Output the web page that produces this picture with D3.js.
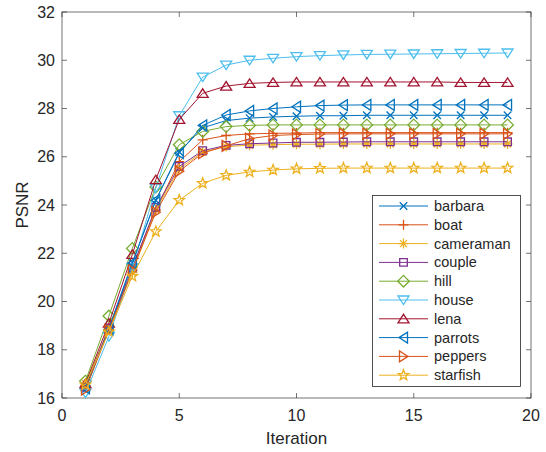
<!DOCTYPE html>
<html>
<head>
<meta charset="utf-8">
<script src="https://cdn.jsdelivr.net/npm/d3@7"></script>
<style>
  body { margin: 0; background: #fff; }
  text { font-family: 'Liberation Sans', Arial, Helvetica, sans-serif; fill: #262626; }
</style>
</head>
<body>
<div id="main-content"></div>
<script>
'use strict'

const iterations = d3.range(1, 20)
const names = ['barbara', 'boat', 'cameraman', 'couple', 'hill', 'house', 'lena', 'parrots', 'peppers', 'starfish']

const barbara = [16.35, 18.9, 21.6, 24.2, 26.2, 27.2, 27.5, 27.6, 27.65, 27.68, 27.7, 27.7, 27.72, 27.72, 27.72, 27.72, 27.72, 27.72, 27.72]
const boat = [16.5, 18.9, 21.4, 23.8, 25.8, 26.7, 26.88, 26.95, 26.97, 26.98, 27.0, 27.0, 27.0, 27.0, 27.0, 27.0, 27.0, 27.0, 27.0]
const cameraman = [16.6, 18.85, 21.2, 23.8, 25.5, 26.2, 26.42, 26.48, 26.5, 26.52, 26.52, 26.53, 26.53, 26.53, 26.53, 26.53, 26.53, 26.53, 26.53]
const couple = [16.45, 18.9, 21.4, 23.9, 25.6, 26.25, 26.47, 26.54, 26.57, 26.6, 26.6, 26.61, 26.62, 26.62, 26.62, 26.62, 26.62, 26.62, 26.62]
const hill = [16.7, 19.4, 22.2, 24.75, 26.5, 27.05, 27.25, 27.3, 27.32, 27.32, 27.32, 27.32, 27.32, 27.32, 27.32, 27.32, 27.32, 27.32, 27.32]
const house = [16.2, 18.55, 21.4, 24.7, 27.7, 29.3, 29.8, 30.0, 30.08, 30.15, 30.19, 30.22, 30.24, 30.25, 30.26, 30.27, 30.28, 30.29, 30.3]
const lena = [16.6, 19.1, 21.95, 25.05, 27.55, 28.63, 28.93, 29.04, 29.08, 29.1, 29.1, 29.1, 29.1, 29.1, 29.1, 29.1, 29.08, 29.08, 29.08]
const parrots = [16.4, 18.85, 21.6, 24.2, 26.15, 27.3, 27.73, 27.9, 28.0, 28.07, 28.12, 28.14, 28.15, 28.15, 28.15, 28.15, 28.15, 28.15, 28.15]
const peppers = [16.35, 18.8, 21.3, 23.7, 25.4, 26.15, 26.45, 26.75, 26.88, 26.92, 26.94, 26.95, 26.95, 26.95, 26.95, 26.95, 26.95, 26.95, 26.95]
const starfish = [16.55, 18.75, 21.05, 22.9, 24.2, 24.9, 25.23, 25.37, 25.45, 25.5, 25.52, 25.53, 25.53, 25.53, 25.53, 25.53, 25.53, 25.53, 25.53]

const values = [barbara, boat, cameraman, couple, hill, house, lena, parrots, peppers, starfish]
const colors = ['#0072BD', '#D95319', '#EDB120', '#7E2F8E', '#77AC30', '#4DBEEE', '#A2142F', '#0072BD', '#D95319', '#EDB120']
const markers = ['x', '+', '*', 's', 'd', 'v', '^', '<', '>', 'p']

const xTicks = [0, 5, 10, 15, 20]
const yTicks = [16, 18, 20, 22, 24, 26, 28, 30, 32]

const width = 546,
		height = 452
const margin = { top: 12, right: 15, bottom: 54, left: 62 }

const svg = d3.select('#main-content').append('svg')
	.attr('width', width)
	.attr('height', height)

const x = d3.scaleLinear().domain([0, 20]).range([margin.left, width - margin.right])
const y = d3.scaleLinear().domain([16, 32]).range([height - margin.bottom, margin.top])

// marker path around 0,0
const markerPath = (m) => {
	const r = 5
	switch (m) {
		case 'x': return `M${-r*0.75},${-r*0.75}L${r*0.75},${r*0.75}M${-r*0.75},${r*0.75}L${r*0.75},${-r*0.75}`
		case '+': return `M${-r},0L${r},0M0,${-r}L0,${r}`
		case '*': return `M${-r},0L${r},0M0,${-r}L0,${r}M${-r*0.7},${-r*0.7}L${r*0.7},${r*0.7}M${-r*0.7},${r*0.7}L${r*0.7},${-r*0.7}`
		case 's': return `M-3.8,-3.8H3.8V3.8H-3.8Z`
		case 'd': return `M0,-5.8L5.8,0L0,5.8L-5.8,0Z`
		case 'v': return `M-5.5,-4L5.5,-4L0,4.5Z`
		case '^': return `M-5.5,4L5.5,4L0,-4.5Z`
		case '<': return `M4,-5.5L4,5.5L-4.5,0Z`
		case '>': return `M-4,-5.5L-4,5.5L4.5,0Z`
		case 'p': {
			const pts = []
			for (let i = 0; i < 10; i++) {
				const a = -Math.PI / 2 + i * Math.PI / 5
				const rr = i % 2 === 0 ? 5.5 : 2.3
				pts.push([rr * Math.cos(a), rr * Math.sin(a)])
			}
			return 'M' + pts.map(p => p[0].toFixed(2) + ',' + p[1].toFixed(2)).join('L') + 'Z'
		}
	}
}

// axes box
const axisColor = '#262626'
svg.append('rect')
	.attr('x', x(0)).attr('y', y(32))
	.attr('width', x(20) - x(0)).attr('height', y(16) - y(32))
	.attr('fill', 'none').attr('stroke', axisColor).attr('stroke-width', 0.8).attr('stroke-opacity', 0.8)

// ticks inside, bottom/top/left/right
const tickLen = 5
const ticks = svg.append('g').attr('stroke', axisColor).attr('stroke-width', 0.8).attr('stroke-opacity', 0.8)
xTicks.forEach(t => {
	ticks.append('line').attr('x1', x(t)).attr('x2', x(t)).attr('y1', y(16)).attr('y2', y(16) - tickLen)
	ticks.append('line').attr('x1', x(t)).attr('x2', x(t)).attr('y1', y(32)).attr('y2', y(32) + tickLen)
})
yTicks.forEach(t => {
	ticks.append('line').attr('x1', x(0)).attr('x2', x(0) + tickLen).attr('y1', y(t)).attr('y2', y(t))
	ticks.append('line').attr('x1', x(20)).attr('x2', x(20) - tickLen).attr('y1', y(t)).attr('y2', y(t))
})

svg.append('g').selectAll('text')
	.data(xTicks)
	.enter().append('text')
		.attr('x', d => x(d))
		.attr('y', y(16) + 23)
		.attr('text-anchor', 'middle')
		.attr('font-size', 16)
		.text(d => d)

svg.append('g').selectAll('text')
	.data(yTicks)
	.enter().append('text')
		.attr('x', x(0) - 7)
		.attr('y', d => y(d))
		.attr('dy', '.35em')
		.attr('text-anchor', 'end')
		.attr('font-size', 16)
		.text(d => d)

svg.append('text')
	.attr('x', (x(0) + x(20)) / 2)
	.attr('y', 444)
	.attr('text-anchor', 'middle')
	.attr('font-size', 17)
	.text('Iteration')

svg.append('text')
	.attr('transform', `translate(28,${(y(16) + y(32)) / 2}) rotate(-90)`)
	.attr('text-anchor', 'middle')
	.attr('font-size', 17)
	.text('PSNR')

// series
const line = d3.line()
	.x((d, i) => x(iterations[i]))
	.y(d => y(d))

const series = svg.append('g')
	.selectAll('g')
	.data(values)
	.enter().append('g')

series.append('path')
	.attr('d', d => line(d))
	.attr('fill', 'none')
	.attr('stroke', (d, i) => colors[i])
	.attr('stroke-width', 1)

series.each(function(d, i) {
	d3.select(this).selectAll('path.mk')
		.data(d)
		.enter().append('path')
			.attr('class', 'mk')
			.attr('transform', (v, j) => `translate(${x(iterations[j])},${y(v)})`)
			.attr('d', markerPath(markers[i]))
			.attr('fill', 'none')
			.attr('stroke', colors[i])
			.attr('stroke-width', 1.3)
})

// legend
const lg = svg.append('g')
lg.append('rect')
	.attr('x', 372.5).attr('y', 195.5)
	.attr('width', 148).attr('height', 191)
	.attr('fill', '#fff').attr('stroke', axisColor).attr('stroke-width', 0.8)

const item = lg.selectAll('g.item')
	.data(names)
	.enter().append('g')
		.attr('class', 'item')
		.attr('transform', (d, i) => `translate(0,${206 + i * 18.8})`)

item.append('line')
	.attr('x1', 379).attr('x2', 428)
	.attr('stroke', (d, i) => colors[i]).attr('stroke-width', 1)

item.append('path')
	.attr('transform', 'translate(403.5,0)')
	.attr('d', (d, i) => markerPath(markers[i]))
	.attr('fill', 'none')
	.attr('stroke', (d, i) => colors[i])
	.attr('stroke-width', 1.3)

item.append('text')
	.attr('x', 434)
	.attr('dy', '.35em')
	.attr('font-size', 14.5)
	.text(d => d)
</script>
</body>
</html>
